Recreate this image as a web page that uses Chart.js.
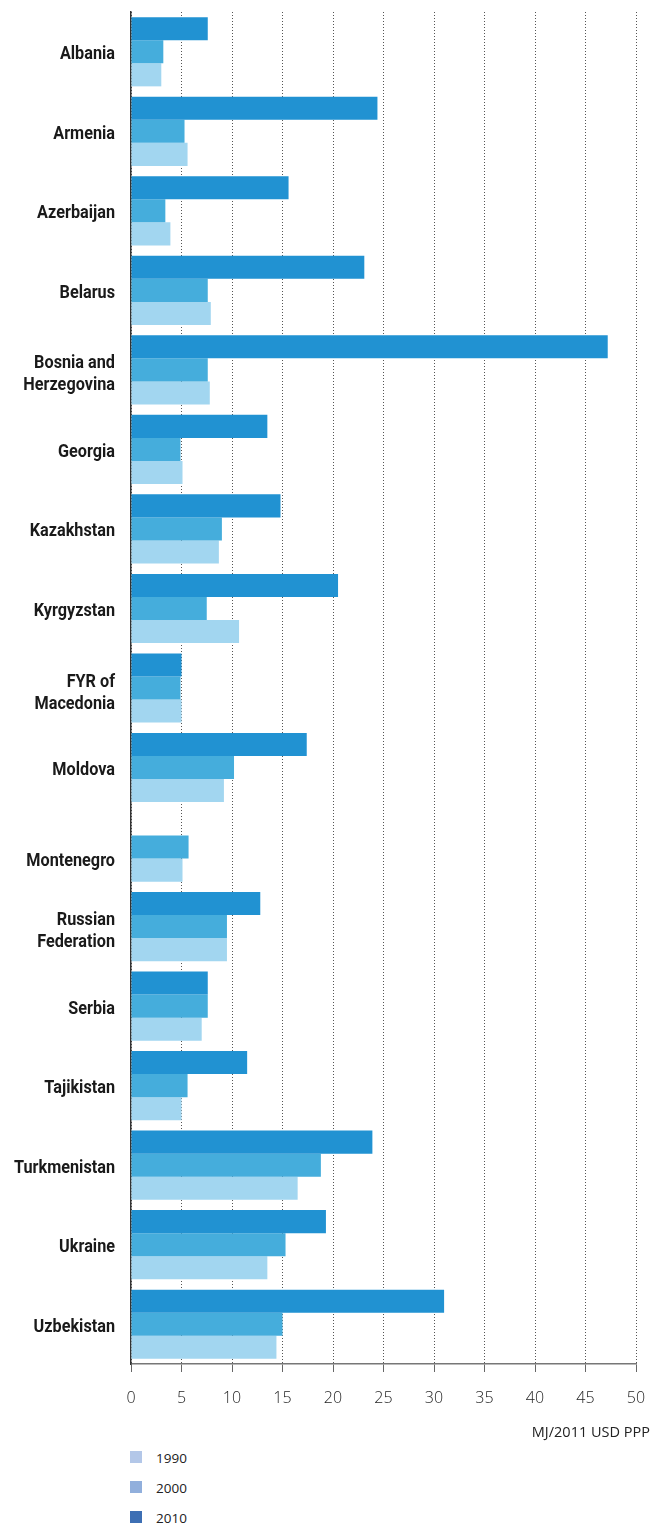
<!DOCTYPE html>
<html lang="en">
<head>
  <meta charset="UTF-8">
  <title>Energy intensity</title>
  <script src="https://cdn.jsdelivr.net/npm/chart.js"></script>
  <style>
    body {
      margin: 0;
      background: #fff;
      font-family: "Open Sans", "DejaVu Sans", sans-serif;
    }
    #wrap {
      position: relative;
      width: 653px;
      height: 1524px;
    }
    #box {
      position: absolute;
      left: 0;
      top: 0;
      width: 653px;
      height: 1445px;
    }
    #unit {
      position: absolute;
      right: 3px;
      top: 1422px;
      font-size: 14.5px;
      color: #222;
    }
    .leyenda {
      position: absolute;
      left: 130px;
      top: 1451px;
      font-size: 13.5px;
      color: #222;
    }
    .leyenda div {
      height: 30px;
      line-height: 14px;
      display: flex;
    }
    .leyenda span.cuadro {
      width: 12px;
      height: 12px;
      margin-right: 14px;
      display: inline-block;
    }
  </style>
</head>
<body>
<div id="wrap">
  <div id="box"><canvas id="grafico"></canvas></div>
  <div id="unit">MJ/2011 USD PPP</div>
  <div class="leyenda" id="leyenda"></div>
</div>

<script>
const paises = [
  'Albania', 'Armenia', 'Azerbaijan', 'Belarus', ['Bosnia and', 'Herzegovina'],
  'Georgia', 'Kazakhstan', 'Kyrgyzstan', ['FYR of', 'Macedonia'], 'Moldova',
  'Montenegro', ['Russian', 'Federation'], 'Serbia', 'Tajikistan',
  'Turkmenistan', 'Ukraine', 'Uzbekistan'
];
const valores2010 = [7.6, 24.4, 15.6, 23.1, 47.2, 13.5, 14.8, 20.5, 5.0, 17.4, null, 12.8, 7.6, 11.5, 23.9, 19.3, 31.0];
const valores2000 = [3.2, 5.3, 3.4, 7.6, 7.6, 4.9, 9.0, 7.5, 4.9, 10.2, 5.7, 9.5, 7.6, 5.6, 18.8, 15.3, 15.0];
const valores1990 = [3.0, 5.6, 3.9, 7.9, 7.8, 5.1, 8.7, 10.7, 5.0, 9.2, 5.1, 9.5, 7.0, 5.0, 16.5, 13.5, 14.4];
const ticksX = [0, 5, 10, 15, 20, 25, 30, 35, 40, 45, 50];

const leyenda = [
  {texto: '1990', color: '#b3c7e8'},
  {texto: '2000', color: '#91afdc'},
  {texto: '2010', color: '#3d6fb4'}
];

document.getElementById('leyenda').innerHTML = leyenda
  .map(l => `<div><span class="cuadro" style="background:${l.color}"></span>${l.texto}</div>`)
  .join('');

// etiquetas del eje Y en negrita "estrecha": Roboto comprimido en horizontal
const fuenteY = 'bold 18px Roboto, "DejaVu Sans", sans-serif';
const anchoObjetivo = 101; // ancho de "Turkmenistan" en la imagen

const etiquetasY = {
  id: 'etiquetasY',
  afterDraw(chart) {
    const escala = chart.scales.y;
    const c = chart.ctx;
    c.save();
    c.font = fuenteY;
    c.fillStyle = '#1a1a1a';
    c.textAlign = 'right';
    c.textBaseline = 'middle';
    const k = Math.min(1, anchoObjetivo / c.measureText('Turkmenistan').width);
    const xDer = escala.right - 16;
    const metas = chart.data.datasets.map((d, i) => chart.getDatasetMeta(i));
    escala.getLabels().forEach((p, i) => {
      const lineas = Array.isArray(p) ? p : [p];
      // centrar la etiqueta sobre las barras que existen en la categoría
      let arriba = Infinity, abajo = -Infinity;
      metas.forEach((m, d) => {
        if (chart.data.datasets[d].data[i] == null) return;
        const b = m.data[i];
        arriba = Math.min(arriba, b.y - b.height / 2);
        abajo = Math.max(abajo, b.y + b.height / 2);
      });
      const yc = isFinite(arriba) ? (arriba + abajo) / 2 : escala.getPixelForValue(i);
      const extra = lineas.length > 1 ? 5 : 3;
      lineas.forEach((l, j) => {
        c.save();
        c.translate(xDer, yc + (j - (lineas.length - 1) / 2) * 22 + extra);
        c.scale(k, 1);
        c.fillText(l, 0, 0);
        c.restore();
      });
    });
    c.restore();
  }
};

const ctx = document.getElementById('grafico').getContext('2d');
new Chart(ctx, {
  type: 'bar',
  data: {
    labels: paises,
    datasets: [
      {label: '2010', data: valores2010, backgroundColor: '#2192d2'},
      {label: '2000', data: valores2000, backgroundColor: '#45addc'},
      {label: '1990', data: valores1990, backgroundColor: '#a2d6f0'}
    ]
  },
  plugins: [etiquetasY],
  options: {
    indexAxis: 'y',
    responsive: true,
    maintainAspectRatio: false,
    animation: false,
    categoryPercentage: 0.87,
    barPercentage: 1,
    layout: {padding: {top: 12, right: 17, left: 0, bottom: 0}},
    plugins: {
      legend: {display: false},
      tooltip: {enabled: false}
    },
    scales: {
      x: {
        min: 0,
        max: 50,
        afterBuildTicks: s => { s.ticks = ticksX.map(v => ({value: v})); },
        afterFit: s => {
          s.height = 81;
          s.paddingLeft = 0;
          s.paddingRight = 0;
        },
        ticks: {
          color: '#1e1e1e',
          padding: 17,
          font: {family: '"Open Sans", "DejaVu Sans", sans-serif', size: 16, weight: '300'}
        },
        grid: {
          color: '#555',
          lineWidth: 1,
          tickLength: 8,
          tickColor: '#666',
          tickBorderDash: []
        },
        border: {color: '#777', width: 1.5, dash: [1, 2]}
      },
      y: {
        afterFit: s => {
          s.width = 131;
          s.paddingTop = 0;
          s.paddingBottom = 0;
        },
        ticks: {display: false},
        grid: {display: false, drawTicks: false},
        border: {display: true, color: '#333', width: 1.5}
      }
    }
  }
});
</script>
</body>
</html>
